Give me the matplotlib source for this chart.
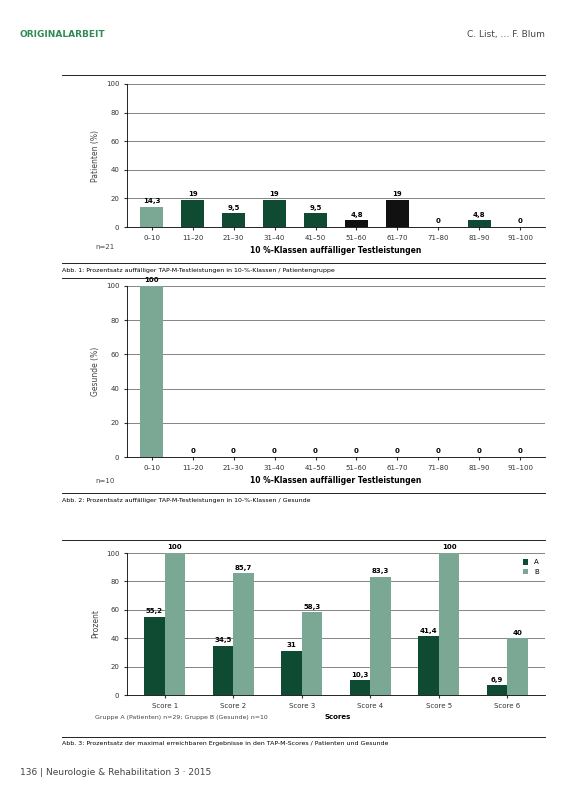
import matplotlib
matplotlib.use("Agg")
import matplotlib.pyplot as plt
import numpy as np

classes = ["0–10","11–20","21–30","31–40","41–50","51–60","61–70","71–80","81–90","91–100"]
vals1 = [14.3, 19, 9.5, 19, 9.5, 4.8, 19, 0, 4.8, 0]
lab1 = ["14,3","19","9,5","19","9,5","4,8","19","0","4,8","0"]
vals2 = [100, 0, 0, 0, 0, 0, 0, 0, 0, 0]
lab2 = ["100"] + ["0"]*9
scores = ["Score 1","Score 2","Score 3","Score 4","Score 5","Score 6"]
grpA = [55.2, 34.5, 31, 10.3, 41.4, 6.9]
grpB = [100, 85.7, 58.3, 83.3, 100, 40]
labA = ["55,2","34,5","31","10,3","41,4","6,9"]
labB = ["100","85,7","58,3","83,3","100","40"]

DARK = "#0f4a33"; LIGHT = "#7aa894"; BLACK = "#111111"
plt.rcParams['font.family'] = ['DejaVu Sans']
fig = plt.figure(figsize=(5.83, 7.89), dpi=100)
W, H = 583, 789
def ax_at(l, r, b, t):
    return fig.add_axes([l/W, 1-b/H, (r-l)/W, (b-t)/H])

def style(ax, ylabel):
    ax.set_ylim(0, 100)
    ax.set_yticks([0,20,40,60,80,100])
    ax.tick_params(labelsize=5, length=2, colors="#333")
    for s in ["top","right"]:
        ax.spines[s].set_visible(False)
    ax.spines["left"].set_linewidth(0.6); ax.spines["bottom"].set_linewidth(0.6)
    ax.grid(axis="y", color="#555", lw=0.5)
    ax.set_axisbelow(True)
    ax.set_ylabel(ylabel, fontsize=5.5, color="#444")

# chart 1
ax1 = ax_at(127, 545, 227, 84)
cols1 = [LIGHT] + [DARK]*4 + [BLACK, BLACK] + [DARK]*3
x = np.arange(len(classes))
ax1.bar(x, vals1, width=0.55, color=cols1)
for xi, v, l in zip(x, vals1, lab1):
    ax1.text(xi, v+2.5, l, ha="center", fontsize=5, fontweight="bold")
ax1.set_xticks(x); ax1.set_xticklabels(classes, fontsize=5)
ax1.set_xlim(-0.6, 9.6)
style(ax1, "Patienten (%)")
ax1.set_xlabel("10 %-Klassen auffälliger Testleistungen", fontsize=5.5, fontweight="bold")
fig.text(95/W, 1-249/H, "n=21", fontsize=5, color="#444")
fig.text(62/W, 1-272/H, "Abb. 1: Prozentsatz auffälliger TAP-M-Testleistungen in 10-%-Klassen / Patientengruppe", fontsize=4.5)

# chart 2
ax2 = ax_at(127, 545, 457, 286)
ax2.bar(x, vals2, width=0.55, color=[LIGHT]+[DARK]*9)
for xi, v, l in zip(x, vals2, lab2):
    ax2.text(xi, v+2.5, l, ha="center", fontsize=5, fontweight="bold")
ax2.set_xticks(x); ax2.set_xticklabels(classes, fontsize=5)
ax2.set_xlim(-0.6, 9.6)
style(ax2, "Gesunde (%)")
ax2.set_xlabel("10 %-Klassen auffälliger Testleistungen", fontsize=5.5, fontweight="bold")
fig.text(95/W, 1-483/H, "n=10", fontsize=5, color="#444")
fig.text(62/W, 1-502/H, "Abb. 2: Prozentsatz auffälliger TAP-M-Testleistungen in 10-%-Klassen / Gesunde", fontsize=4.5)

# chart 3
ax3 = ax_at(127, 545, 695, 553)
x3 = np.arange(len(scores)); bw = 0.3
ax3.bar(x3-0.15, grpA, width=bw, color=DARK, label="A")
ax3.bar(x3+0.15, grpB, width=bw, color=LIGHT, label="B")
for xi, a, b, la, lb in zip(x3, grpA, grpB, labA, labB):
    ax3.text(xi-0.15, a+2.5, la, ha="center", fontsize=5, fontweight="bold")
    ax3.text(xi+0.15, b+2.5, lb, ha="center", fontsize=5, fontweight="bold")
ax3.set_xticks(x3); ax3.set_xticklabels(scores, fontsize=5)
ax3.set_xlim(-0.55, 5.55)
style(ax3, "Prozent")
ax3.legend(loc="upper right", fontsize=5, frameon=False, handlelength=0.8, handleheight=0.8)
fig.text(95/W, 1-719/H, "Gruppe A (Patienten) n=29; Gruppe B (Gesunde) n=10", fontsize=4.5, color="#444")
fig.text(325/W, 1-719/H, "Scores", fontsize=5, fontweight="bold")
fig.text(62/W, 1-745/H, "Abb. 3: Prozentsatz der maximal erreichbaren Ergebnisse in den TAP-M-Scores / Patienten und Gesunde", fontsize=4.5)

# page lines and header/footer
for yy in [75, 263, 278, 493, 540, 737]:
    fig.add_artist(plt.Line2D([62/W, 545/W], [1-yy/H]*2, color="#222", lw=0.7))
fig.text(20/W, 1-37/H, "ORIGINALARBEIT", fontsize=6.5, fontweight="bold", color="#2e8b57")
fig.text(545/W, 1-37/H, "C. List, … F. Blum", fontsize=6.5, ha="right", color="#444")
fig.text(20/W, 1-775/H, "136 | Neurologie & Rehabilitation 3 · 2015", fontsize=6.5, color="#444")
fig.savefig("out.png", dpi=100)
